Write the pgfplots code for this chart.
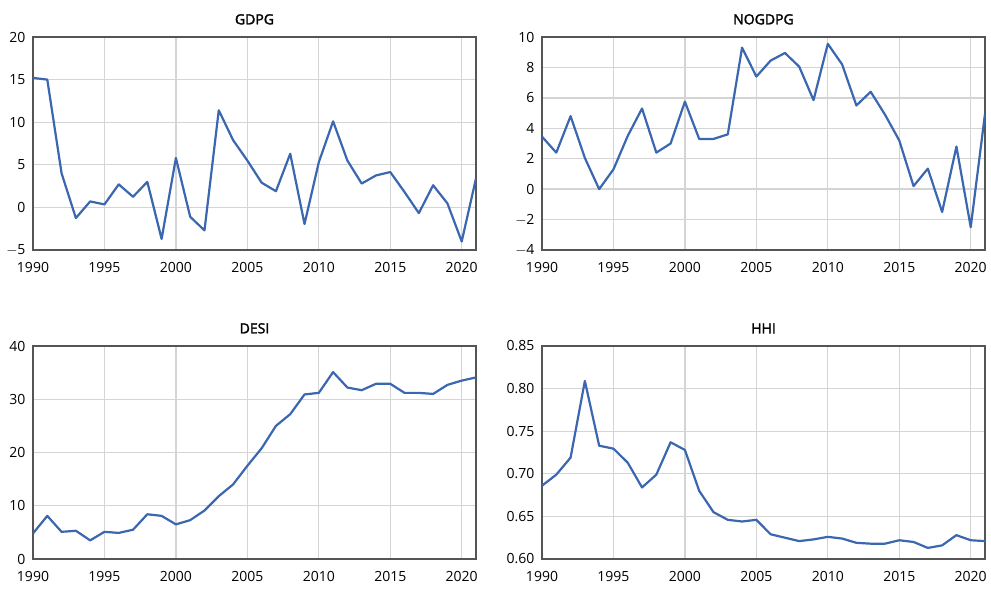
\documentclass[border=0pt]{standalone}
\usepackage{pgfplots}
\pgfplotsset{compat=1.18}
\usepackage{fontspec}
\setmainfont{Open Sans}
\newfontfamily\titlefont[FakeBold=2]{Open Sans}
\definecolor{lineblue}{HTML}{3B66B0}
\definecolor{gridgray}{HTML}{D4D4D4}
\definecolor{framegray}{HTML}{555555}
\pgfplotsset{
  panel/.style={
    scale only axis, width=443pt, height=213pt,
    xmin=1990, xmax=2021,
    xtick={1990,1995,2000,2005,2010,2015,2020},
    xticklabel style={/pgf/number format/1000 sep={}},
    grid=major,
    major grid style={gridgray, line width=1.3pt},
    axis line style={framegray, line width=1.4pt},
    tick style={draw=none},
    ticklabel style={font=\fontsize{14}{16}\selectfont, text=black},
    /pgf/number format/assume math mode=true,
    xticklabel style={yshift=-9pt},
    yticklabel style={xshift=-4pt},
    title style={font=\titlefont\fontsize{14}{16}\selectfont, yshift=3pt},
  },
  myline/.style={lineblue, line width=2.2pt, mark=none, line join=round},
}
\begin{document}
\begin{tikzpicture}[x=1pt,y=1pt]
\path[use as bounding box] (0,0) rectangle (991,590);
% GDPG
\begin{axis}[panel, at={(33pt,340pt)}, anchor=south west,
  ymin=-5, ymax=20, ytick={-5,0,5,10,15,20},
  yticklabels={$-$5,0,5,10,15,20},
  title={GDPG}]
\addplot[myline] coordinates {
(1990,15.2)(1991,15.0)(1992,4.0)(1993,-1.25)(1994,0.7)(1995,0.35)(1996,2.7)(1997,1.25)
(1998,3.0)(1999,-3.7)(2000,5.8)(2001,-1.1)(2002,-2.7)(2003,11.4)(2004,7.9)(2005,5.5)
(2006,2.9)(2007,1.9)(2008,6.3)(2009,-1.95)(2010,5.3)(2011,10.1)(2012,5.5)(2013,2.8)
(2014,3.75)(2015,4.15)(2016,1.8)(2017,-0.67)(2018,2.6)(2019,0.47)(2020,-4.0)(2021,3.4)};
\end{axis}
% NOGDPG
\begin{axis}[panel, at={(542pt,340pt)}, anchor=south west,
  ymin=-4, ymax=10, ytick={-4,-2,0,2,4,6,8,10},
  yticklabels={$-$4,$-$2,0,2,4,6,8,10},
  title={NOGDPG}]
\addplot[myline] coordinates {
(1990,3.45)(1991,2.4)(1992,4.8)(1993,2.05)(1994,0.0)(1995,1.3)(1996,3.5)(1997,5.3)
(1998,2.4)(1999,3.0)(2000,5.75)(2001,3.3)(2002,3.3)(2003,3.6)(2004,9.3)(2005,7.4)
(2006,8.45)(2007,8.95)(2008,8.05)(2009,5.85)(2010,9.55)(2011,8.2)(2012,5.5)(2013,6.4)
(2014,4.9)(2015,3.2)(2016,0.2)(2017,1.35)(2018,-1.5)(2019,2.8)(2020,-2.5)(2021,4.95)};
\end{axis}
% DESI
\begin{axis}[panel, at={(33pt,31pt)}, anchor=south west,
  ymin=0, ymax=40, ytick={0,10,20,30,40},
  title={DESI}]
\addplot[myline] coordinates {
(1990,4.8)(1991,8.1)(1992,5.1)(1993,5.3)(1994,3.5)(1995,5.1)(1996,4.9)(1997,5.5)
(1998,8.4)(1999,8.1)(2000,6.5)(2001,7.3)(2002,9.1)(2003,11.8)(2004,14.0)(2005,17.5)
(2006,20.8)(2007,25.0)(2008,27.2)(2009,30.9)(2010,31.2)(2011,35.1)(2012,32.2)(2013,31.7)
(2014,32.9)(2015,32.9)(2016,31.2)(2017,31.2)(2018,31.0)(2019,32.7)(2020,33.5)(2021,34.1)};
\end{axis}
% HHI
\begin{axis}[panel, at={(542pt,31pt)}, anchor=south west,
  ymin=0.60, ymax=0.85, ytick={0.60,0.65,0.70,0.75,0.80,0.85},
  yticklabels={0.60,0.65,0.70,0.75,0.80,0.85},
  title={HHI}]
\addplot[myline] coordinates {
(1990,0.686)(1991,0.699)(1992,0.719)(1993,0.809)(1994,0.733)(1995,0.7295)(1996,0.713)(1997,0.684)
(1998,0.699)(1999,0.737)(2000,0.728)(2001,0.680)(2002,0.655)(2003,0.646)(2004,0.644)(2005,0.646)
(2006,0.629)(2007,0.625)(2008,0.621)(2009,0.623)(2010,0.626)(2011,0.624)(2012,0.619)(2013,0.618)
(2014,0.618)(2015,0.622)(2016,0.620)(2017,0.613)(2018,0.616)(2019,0.628)(2020,0.622)(2021,0.621)};
\end{axis}
\end{tikzpicture}
\end{document}
